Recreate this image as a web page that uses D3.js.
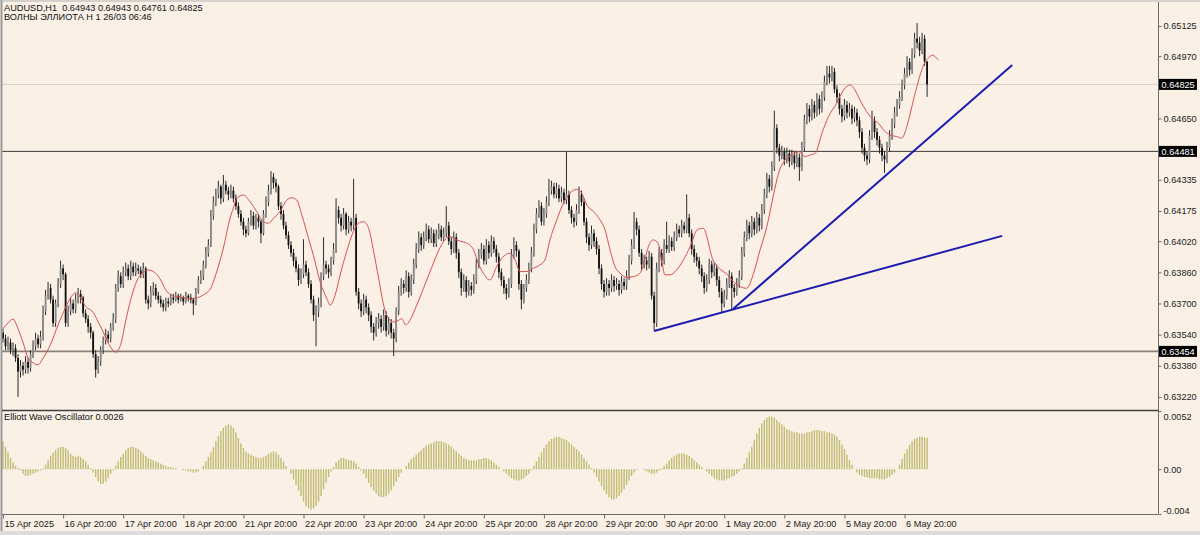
<!DOCTYPE html>
<html><head><meta charset="utf-8">
<script src="https://cdn.jsdelivr.net/npm/d3@7"></script>
<style>
html,body{margin:0;padding:0;background:#FAF0E6;}
svg{display:block;font-family:"Liberation Sans",Arial,sans-serif;}
</style></head><body>
<svg id="chart" width="1200" height="535"></svg>
<script>
// ---------- texts ----------
const symbolTitle = "AUDUSD,H1  0.64943 0.64943 0.64761 0.64825";
const indicatorTitle = "ВОЛНЫ ЭЛЛИОТА Н 1 26/03 06:46";
const oscTitle = "Elliott Wave Oscillator 0.0026";

// ---------- price data (pips = 0.0001 above priceBase), one value per H1 bar ----------
const priceBase = 0.63;
const firstOpen = 55;
const closes = [
52,48,50,46,47,42,35,38,36,40,
37,44,48,52,49,53,66,74,78,72,
60,70,80,88,85,60,66,70,67,72,
75,73,65,62,58,55,44,36,40,46,
51,54,52,58,62,78,84,80,86,88,
84,89,86,88,87,85,88,72,70,76,
78,74,72,70,68,71,70,73,72,74,
72,73,71,74,73,72,70,76,82,84,
90,96,100,115,122,126,130,124,131,128,
126,128,124,120,116,112,108,106,112,115,
110,114,112,106,116,122,128,135,132,130,
120,116,110,105,100,96,92,88,82,85,
90,86,80,72,64,66,70,84,90,88,
86,92,98,118,114,110,116,108,112,110,
114,76,70,66,72,68,64,58,55,60,
62,58,64,56,60,55,52,66,76,80,
78,84,76,82,90,98,104,100,104,108,
103,106,101,105,108,104,106,110,102,98,
104,96,86,78,82,76,79,77,82,90,
95,98,92,100,96,102,98,94,86,82,
78,75,80,95,100,97,80,72,78,82,
88,96,108,116,120,112,116,122,128,130,
126,129,124,127,123,126,118,114,112,118,
126,122,112,104,100,106,102,98,88,80,
76,80,78,82,79,80,77,81,79,84,
92,100,112,108,96,90,92,90,94,74,
60,88,96,92,100,98,102,99,104,108,
106,110,108,114,106,98,94,92,88,84,
78,82,90,86,88,82,76,70,74,80,
84,78,76,80,84,96,104,110,106,112,
108,114,110,118,126,134,130,140,160,150,
146,148,144,147,143,146,142,145,140,150,
164,170,166,172,168,175,170,176,184,188,
186,189,180,176,170,166,172,168,170,165,
168,164,158,150,146,144,156,164,158,154,
150,146,144,150,156,162,168,172,176,182,
188,194,190,198,206,204,200,206,194.3,182.5
];
const highs = [
57,54,53,52,50,49,44,41,40,43,
42,46,51,55,54,56,69,77,81,80,
74,72,83,92,90,86,69,73,72,75,
78,77,74,67,64,60,56,46,43,48,
53,57,56,60,65,80,87,86,89,91,
90,92,91,91,90,89,91,89,74,79,
81,80,76,74,72,73,73,75,75,76,
75,75,74,76,75,75,73,78,84,87,
92,99,103,118,125,129,133,131,136,133,
130,131,130,126,122,118,114,110,114,118,
117,116,116,113,118,125,131,138,137,134,
131,122,118,112,107,102,98,94,90,88,
103,92,88,82,74,69,73,86,104,92,
90,94,101,124,120,116,119,117,115,114,
134,116,78,72,75,74,70,66,60,63,
65,64,67,66,63,62,57,68,79,83,
82,87,86,85,93,101,107,106,107,111,
110,109,108,108,111,110,109,120,112,104,
107,106,98,88,85,84,82,81,85,93,
98,101,100,103,102,105,104,100,96,88,
84,80,83,98,104,102,98,82,80,85,
91,99,111,119,123,122,119,125,134,133,
132,132,131,130,129,148,128,120,116,121,
130,128,124,114,106,110,108,104,100,90,
82,83,82,85,84,83,82,84,83,87,
95,103,117,114,110,98,95,94,97,96,
76,91,99,98,103,112,105,104,107,111,
110,113,112,126,116,108,100,96,94,90,
86,85,93,92,91,90,84,78,77,83,
87,86,80,83,87,99,107,113,112,115,
114,117,116,121,129,137,136,143,169,162,
152,151,150,150,149,149,148,148,147,153,
167,173,172,175,174,178,177,179,187,192,
192,192,191,182,178,172,175,174,173,172,
171,170,166,160,152,148,159,169,166,160,
156,152,148,153,159,165,171,175,179,185,
191,197,196,201,209,214,207,209,208,194.3
];
const lows = [
50,46,46,44,43,40,22,32,33,34,
34,35,42,46,47,47,51,64,72,70,
58,58,68,78,82,58,58,64,65,65,
70,70,63,60,55,52,42,32,34,38,
44,49,50,50,56,60,76,78,78,84,
82,82,84,84,85,83,83,70,67,68,
74,72,70,68,66,66,68,69,70,71,
70,71,69,70,71,70,64,69,75,80,
82,88,94,99,113,120,124,121,122,126,
123,124,122,118,114,110,105,104,105,110,
108,108,109,101,105,114,120,126,129,127,
118,113,108,103,98,94,89,86,79,80,
83,84,78,70,61,48,63,68,82,85,
83,84,90,96,111,107,108,105,106,107,
108,74,67,63,64,65,61,55,51,53,
57,55,56,53,54,52,43,50,64,74,
75,76,73,74,80,88,96,97,98,102,
101,101,99,99,103,102,102,104,100,95,
96,93,83,74,76,73,74,74,75,80,
88,93,90,90,93,94,96,91,83,79,
75,72,73,78,93,94,77,67,70,76,
80,86,94,106,114,110,110,114,120,126,
124,124,122,122,121,121,116,111,109,110,
116,120,110,101,97,98,99,95,85,77,
73,74,74,76,76,77,74,75,77,77,
82,90,98,105,94,87,88,87,88,72,
56,58,86,89,90,96,96,97,97,102,
104,104,106,106,104,95,91,89,85,81,
75,76,80,83,84,79,73,65,68,72,
78,67,73,74,78,82,94,102,103,104,
105,106,107,108,116,124,127,128,138,147,
143,144,141,142,140,141,139,140,133,138,
148,162,163,164,165,166,167,168,174,182,
183,184,178,173,167,163,164,165,166,162,
163,161,155,147,143,141,142,154,155,151,
147,143,137,142,148,154,160,166,170,174,
180,186,187,188,196,201,197,198,192,176.1
];

// ---------- Elliott Wave Oscillator (units of 0.0001), one value per bar ----------
const ewo = [
25,20,15,10,6,3,1,-1,-4,-6,
-6,-5,-4,-3,-2,-1,1,4,8,12,
15,17,19,20,20,19,17,14,12,11,
12,11,9,7,4,1,-3,-7,-11,-13,
-13,-11,-8,-4,-1,3,7,11,14,17,
19,20,20,19,18,16,14,12,10,9,
8,7,6,5,4,3,2,2,1,1,
0,0,-1,-1,-2,-2,-3,-3,-2,0,
3,7,11,15,20,25,30,34,37,39,
40,39,37,33,28,23,19,16,14,13,
12,11,10,10,11,12,14,15,16,15,
13,10,7,3,0,-4,-9,-14,-19,-24,
-29,-33,-35,-36,-35,-33,-29,-24,-18,-12,
-7,-2,2,6,8,10,10,9,8,8,
7,5,2,-1,-4,-8,-12,-16,-19,-22,
-24,-25,-25,-24,-22,-19,-15,-11,-7,-3,
0,3,6,9,11,13,15,17,19,21,
22,23,24,25,25,25,24,23,22,20,
18,16,14,12,10,9,8,8,8,8,
9,9,10,10,9,8,6,4,2,0,
-2,-4,-6,-8,-9,-10,-10,-9,-8,-6,
-4,-1,3,7,11,15,19,22,25,27,
28,29,29,28,27,26,24,22,20,18,
16,13,10,7,4,1,-3,-7,-11,-15,
-19,-22,-25,-27,-27,-26,-24,-21,-18,-14,
-10,-6,-3,-1,0,0,-1,-2,-3,-4,
-4,-3,-1,1,3,5,8,10,12,13,
14,14,14,13,12,10,8,6,4,2,
0,-2,-4,-6,-8,-9,-10,-10,-10,-9,
-8,-7,-6,-4,-2,1,5,10,15,20,
26,32,37,41,44,46,47,47,46,44,
42,40,38,36,35,34,33,33,32,32,
32,33,33,34,35,35,35,34,34,33,
33,32,31,29,26,22,18,13,8,4,
0,-3,-5,-6,-7,-7,-8,-8,-8,-8,
-9,-9,-9,-8,-7,-5,-3,0,4,9,
14,18,22,25,27,28,29,29,28,28
];

// ---------- red moving average, read as [bar, pips] points ----------
const maPoints = [
[0,57],[2,60],[4,62],[6,57],[8,50],[10,42],[12,39.5],[14,38.5],[16,42],[19,49],
[22,59],[25,68],[27,73],[29,75.5],[31,73],[33,68.5],[36,65.5],[38,60.5],[40,55.4],[43,47.5],
[45,45],[47,49],[49,61],[51,72],[54,83],[56,86],[58,87.2],[61,85.5],[63,82],[65,77],
[67,74.4],[70,73.4],[72,73],[75,72.3],[77,72.8],[80,74.4],[83,78],[85,85],[88,98.5],[90.7,114],
[92,119],[93.3,124],[96,125.7],[98.6,122.3],[101.3,117.2],[104,112],[106,111.2],[108,113.7],[110.6,117.2],[113.3,123.1],
[115.3,124.3],[117.3,123.1],[119.3,115.5],[122,103.5],[124.6,91.5],[126.6,81.2],[129.3,72.6],[130.6,69.1],[132.6,74.2],[134.6,84.6],
[137.2,96.6],[139.9,106.9],[141.9,111.2],[144,112],[146,108.6],[148,96.6],[150,82.9],[152,69.1],[154,62.2],[156,60.5],
[158,61.4],[159.2,62.2],[160.8,59],[162.5,61.4],[165.2,69.1],[167.9,77.7],[170.5,86.3],[173.2,94.9],[175.9,101.8],[178.5,104.3],
[181.2,102.6],[183.9,101.5],[185.2,101],[187.9,97.5],[189.8,90.6],[191.8,85.5],[194.5,82.1],[197.1,88.9],[199.7,94],[202.5,95.8],
[204.5,92.4],[206.4,86.4],[209.1,86.4],[211.8,88.1],[214.4,89.8],[216.4,92.4],[218.4,102.6],[221.1,112.9],[223.8,121.5],[226.4,126.6],
[229.1,128.6],[231.1,126.6],[233.1,120.6],[235.8,117.2],[238.4,112.9],[240.4,107.8],[242.4,97.5],[244.4,88.9],[246.5,85.5],[249,83.4],
[251.7,83.8],[254.3,85.5],[256.3,92.4],[257.7,99.2],[259.7,102.6],[261.6,100.9],[263,92.4],[264.3,84.7],[266.3,84.7],[269,87.2],
[271.7,92.4],[274.4,99.2],[277.2,107.8],[279.6,108.6],[283.5,92.4],[286,88],[289.1,85],[291.7,81.2],[294.3,78.7],[297,77.8],
[299.7,85.5],[302.3,97.5],[305,109.4],[307.7,126],[309.7,136.9],[312.3,143.7],[315,146.3],[317.7,148],[320.3,145.4],[322.3,146.3],
[324.3,147.1],[327,157.4],[329.6,165.9],[332.9,172.8],[335.6,179.6],[338.3,182.2],[340.2,179.6],[342.2,174.5],[344.9,168.5],[347.6,164.2],
[349.6,162.5],[351.6,159.1],[354.2,156.6],[356.9,155.7],[358.9,154.9],[360.9,160.8],[362.9,171],[364.9,181.3],[366.9,190],[368.3,194.2],
[369.5,196],[371,197.5],[373.5,195]
];

// ---------- axes / annotations ----------
const timeLabels = ["15 Apr 2025","16 Apr 20:00","17 Apr 20:00","18 Apr 20:00","21 Apr 20:00","22 Apr 20:00",
  "23 Apr 20:00","24 Apr 20:00","25 Apr 20:00","28 Apr 20:00","29 Apr 20:00","30 Apr 20:00",
  "1 May 20:00","2 May 20:00","5 May 20:00","6 May 20:00"];
const timeLabelBars = [0,24,48,72,96,120,144,168,192,216,240,264,288,312,336,360];
const priceTicks = [0.65125,0.64970,0.64650,0.64335,0.64175,0.64020,0.63860,0.63700,0.63540,0.63380,0.63220];
const oscTicks = [0.0052, 0, -0.004];
const oscTickLabels = ["0.0052","0.00","-0.004"];
const levelLines = [0.64481, 0.63454];
const bidPrice = 0.64825;
const trendShallow = [[260, 0.63559],[399, 0.64047]];
const trendSteep = [[291.5, 0.63672],[403, 0.64925]];

// ---------- layout ----------
const W = 1200, H = 535;
const plotL = 2, plotR = 1158, mainT = 2, mainB = 410, oscT = 411, oscB = 514;
const fontAxis = 9.2;

const svg = d3.select("#chart");
svg.append("rect").attr("width", W).attr("height", H).attr("fill", "#FAF0E6");
svg.append("rect").attr("x", 0).attr("y", 531).attr("width", W).attr("height", 4).attr("fill", "#dcdcdc");

const x = d3.scaleLinear().domain([0, 461.2]).range([3, plotR]);
const y = d3.scaleLinear().domain([0.63153, 0.65243]).range([mainB, 3]);
const yo = d3.scaleLinear().domain([-0.004, 0.0052]).range([oscB, oscT]);

const bars = closes.map((c, i) => ({
  i,
  o: priceBase + (i === 0 ? firstOpen : closes[i - 1]) / 1e4,
  h: priceBase + highs[i] / 1e4,
  l: priceBase + lows[i] / 1e4,
  c: priceBase + c / 1e4
}));

const defs = svg.append("defs");
defs.append("clipPath").attr("id", "clipMain").append("rect")
  .attr("x", plotL).attr("y", mainT).attr("width", plotR - plotL).attr("height", mainB - mainT);
defs.append("clipPath").attr("id", "clipOsc").append("rect")
  .attr("x", plotL).attr("y", oscT).attr("width", plotR - plotL).attr("height", oscB - oscT);

const main = svg.append("g").attr("clip-path", "url(#clipMain)");

// bid line and levels
main.append("line").attr("x1", plotL).attr("x2", plotR)
  .attr("y1", y(bidPrice)).attr("y2", y(bidPrice)).attr("stroke", "#d6cdc4").attr("stroke-width", 1);
main.selectAll("line.level").data(levelLines).join("line").attr("class", "level")
  .attr("x1", plotL).attr("x2", plotR).attr("y1", d => y(d)).attr("y2", d => y(d))
  .attr("stroke", (d, i) => i === 0 ? "#3a3a3a" : "#8a8078").attr("stroke-width", (d, i) => i === 0 ? 1 : 1.6);

// candles
const cg = main.append("g");
cg.selectAll("line.wick").data(bars).join("line").attr("class", "wick")
  .attr("x1", d => x(d.i)).attr("x2", d => x(d.i))
  .attr("y1", d => y(Math.max(d.h, d.o, d.c))).attr("y2", d => y(Math.min(d.l, d.o, d.c)))
  .attr("stroke", "#2a2a2a").attr("stroke-width", 1);
cg.selectAll("rect.body").data(bars).join("rect").attr("class", "body")
  .attr("x", d => x(d.i) - 0.9).attr("width", 1.8)
  .attr("y", d => y(Math.max(d.o, d.c)))
  .attr("height", d => Math.max(1, Math.abs(y(d.o) - y(d.c))))
  .attr("fill", d => d.c >= d.o ? "#8c8c8c" : "#101010");

// moving average
main.append("path").datum(maPoints)
  .attr("d", d3.line().x(d => x(d[0])).y(d => y(priceBase + d[1] / 1e4)).curve(d3.curveMonotoneX))
  .attr("fill", "none").attr("stroke", "#d65050").attr("stroke-width", 1);

// trend lines
[trendShallow, trendSteep].forEach(t => {
  main.append("path").datum(t)
    .attr("d", d3.line().x(d => x(d[0])).y(d => y(d[1])))
    .attr("stroke", "#1c1cb0").attr("stroke-width", 2).attr("fill", "none");
});

// oscillator
const og = svg.append("g").attr("clip-path", "url(#clipOsc)");
og.selectAll("rect").data(ewo).join("rect")
  .attr("x", (d, i) => x(i) - 0.7).attr("width", 1.4)
  .attr("y", d => yo(Math.max(0, d / 1e4)))
  .attr("height", d => Math.abs(yo(d / 1e4) - yo(0)))
  .attr("fill", "#c2bb72");

// frame lines
const frame = svg.append("g").attr("stroke", "#6b6b6b").attr("fill", "none");
frame.append("line").attr("x1", 1.5).attr("x2", 1.5).attr("y1", 0).attr("y2", 531).attr("stroke", "#9a9a9a").attr("stroke-width", 2);
frame.append("line").attr("x1", 0).attr("x2", W).attr("y1", 1).attr("y2", 1).attr("stroke", "#b0b0b0");
frame.append("line").attr("x1", plotL).attr("x2", plotR).attr("y1", mainB + 0.5).attr("y2", mainB + 0.5).attr("stroke", "#404040").attr("stroke-width", 1.5);
frame.append("line").attr("x1", plotL).attr("x2", plotR).attr("y1", oscB + 0.5).attr("y2", oscB + 0.5).attr("stroke", "#6b6b6b");

// price axis
const pAxis = svg.append("g").attr("transform", `translate(${plotR + 0.5},0)`)
  .call(d3.axisRight(y).tickValues(priceTicks).tickSize(3).tickPadding(2).tickFormat(d3.format(".5f")));
pAxis.select(".domain").attr("stroke", "#6b6b6b").attr("d", `M0,${mainT}V${oscB}`);
pAxis.selectAll("line").attr("stroke", "#6b6b6b");
pAxis.selectAll("text").attr("font-size", fontAxis).attr("fill", "#222").attr("font-family", "Liberation Sans, Arial");

// boxed price labels
const boxes = [bidPrice].concat(levelLines);
const bg = svg.append("g");
boxes.forEach(p => {
  const yy = y(p);
  bg.append("rect").attr("x", plotR + 1).attr("y", yy - 5.5).attr("width", 38).attr("height", 11).attr("fill", "#000");
  bg.append("text").attr("x", plotR + 3.5).attr("y", yy + 3.3).attr("font-size", fontAxis).attr("fill", "#fff")
    .text(d3.format(".5f")(p));
});

// oscillator axis
const oAxis = svg.append("g").attr("transform", `translate(${plotR + 0.5},0)`)
  .call(d3.axisRight(yo).tickValues(oscTicks).tickSize(3).tickPadding(2).tickFormat((d, i) => oscTickLabels[i]));
oAxis.select(".domain").remove();
oAxis.selectAll("line").attr("stroke", "#6b6b6b");
oAxis.selectAll("text").attr("font-size", fontAxis).attr("fill", "#222")
  .attr("dy", (d, i) => i === 0 ? "0.95em" : (i === 2 ? "-0.1em" : "0.32em"));

// time axis
const tAxis = svg.append("g").attr("transform", `translate(0,${oscB + 0.5})`)
  .call(d3.axisBottom(x).tickValues(timeLabelBars).tickSize(4).tickPadding(2).tickFormat((d, i) => timeLabels[i]));
tAxis.select(".domain").remove();
tAxis.selectAll("line").attr("stroke", "#6b6b6b");
tAxis.selectAll("text").attr("font-size", fontAxis).attr("fill", "#222")
  .attr("text-anchor", "start").attr("x", 1).attr("dy", "0.72em");

// titles
const tg = svg.append("g").attr("font-size", 9.2).attr("fill", "#111");
tg.append("text").attr("x", 4).attr("y", 10.5).attr("xml:space", "preserve").style("white-space", "pre").text(symbolTitle);
tg.append("text").attr("x", 4).attr("y", 19.5).text(indicatorTitle);
tg.append("text").attr("x", 4).attr("y", 420).text(oscTitle);
</script>
</body></html>
